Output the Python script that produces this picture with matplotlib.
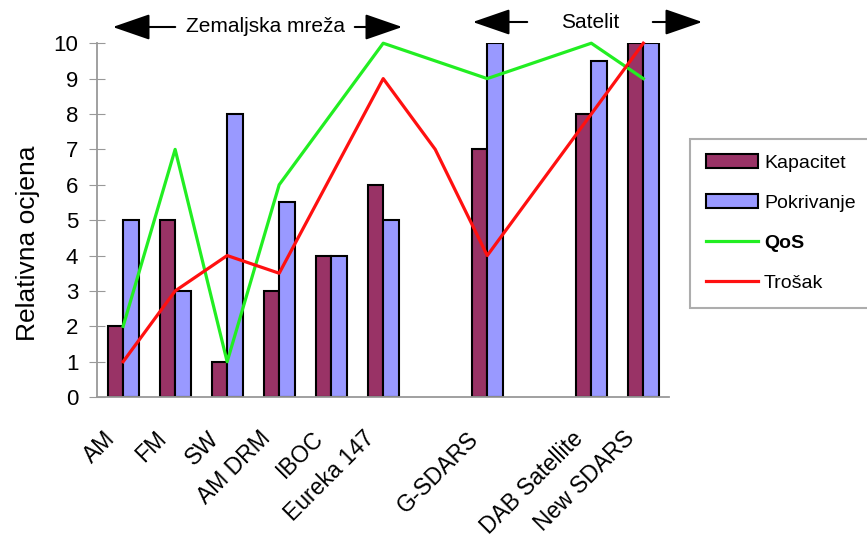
import numpy as np
import matplotlib.pyplot as plt
from matplotlib.transforms import ScaledTranslation

# categories / slots (slots 6 and 8 are empty gaps in the original chart)
slots = np.arange(11)
labels = ['AM', 'FM', 'SW', 'AM DRM', 'IBOC', 'Eureka 147', '', 'G-SDARS', '', 'DAB Satellite', 'New SDARS']
bar_slots = [0, 1, 2, 3, 4, 5, 7, 9, 10]
kapacitet = [2, 5, 1, 3, 4, 6, 7, 8, 10]
pokrivanje = [5, 3, 8, 5.5, 4, 5, 10, 9.5, 10]
qos = [2, 7, 1, 6, 8, 10, 9.5, 9, 9.5, 10, 9]
trosak = [1, 3, 4, 3.5, 6.25, 9, 7, 4, 6, 8, 10]

plt.rcParams['font.family'] = ['Liberation Sans', 'DejaVu Sans']

fig = plt.figure(figsize=(8.67, 5.47), dpi=100)
ax = fig.add_axes([0.112, 0.274, 0.66, 0.647])

w = 0.3
bx = np.array(bar_slots)
b1 = ax.bar(bx - w/2, kapacitet, w, color='#993366', edgecolor='black', linewidth=1.5, label='Kapacitet', zorder=2)
b2 = ax.bar(bx + w/2, pokrivanje, w, color='#9999ff', edgecolor='black', linewidth=1.5, label='Pokrivanje', zorder=2)
l1, = ax.plot(slots, qos, color='#22ee22', lw=2.3, label='QoS', clip_on=False, zorder=3)
l2, = ax.plot(slots, trosak, color='#ff1010', lw=2.3, label='Trošak', clip_on=False, zorder=3)

ax.set_xlim(-0.5, 10.5)
ax.set_ylim(0, 10)
ax.set_yticks(range(11))
ax.tick_params(axis='y', direction='inout', length=11, color='#999999', labelsize=16, pad=8)
ax.set_xticks([])

# rotated category labels, shifted left of the group centre like the original
lab_tr = ax.get_xaxis_transform() + ScaledTranslation(-20/100, -30/100, fig.dpi_scale_trans)
for i in bar_slots:
    ax.text(i, 0, labels[i], transform=lab_tr, rotation=45, ha='right', va='top',
            rotation_mode='anchor', fontsize=16.5)

for s in ['top', 'right']:
    ax.spines[s].set_visible(False)
for s in ['left', 'bottom']:
    ax.spines[s].set_color('#999999')
    ax.spines[s].set_linewidth(1.3)
ax.set_ylabel('Relativna ocjena', fontsize=19)
ax.yaxis.set_label_coords(-0.1, 0.435)

leg = ax.legend([b1, b2, l1, l2], ['Kapacitet', 'Pokrivanje', 'QoS', 'Trošak'],
                loc='upper left', bbox_to_anchor=(0.796, 0.746), bbox_transform=fig.transFigure,
                fontsize=14, frameon=True, fancybox=False, edgecolor='#999999',
                handlelength=2.7, handletextpad=0.3, labelspacing=1.15, borderpad=0.8,
                borderaxespad=0)
leg.get_frame().set_linewidth(1.5)
leg.get_texts()[2].set_fontweight('bold')

# group headers with arrows
arrow = dict(arrowstyle='-|>,head_length=1.3,head_width=0.45', color='black', lw=1.5, mutation_scale=18)
fig.text(265/867, 1 - 27/547, 'Zemaljska mreža', ha='center', va='center', fontsize=15)
ax.annotate('', xy=(110/867, 1 - 27/547), xytext=(178/867, 1 - 27/547), xycoords='figure fraction', arrowprops=arrow)
ax.annotate('', xy=(405/867, 1 - 27/547), xytext=(352/867, 1 - 27/547), xycoords='figure fraction', arrowprops=arrow)
fig.text(590/867, 1 - 22/547, 'Satelit', ha='center', va='center', fontsize=15)
ax.annotate('', xy=(470/867, 1 - 22/547), xytext=(530/867, 1 - 22/547), xycoords='figure fraction', arrowprops=arrow)
ax.annotate('', xy=(705/867, 1 - 22/547), xytext=(650/867, 1 - 22/547), xycoords='figure fraction', arrowprops=arrow)

plt.savefig('out.png', dpi=100)
